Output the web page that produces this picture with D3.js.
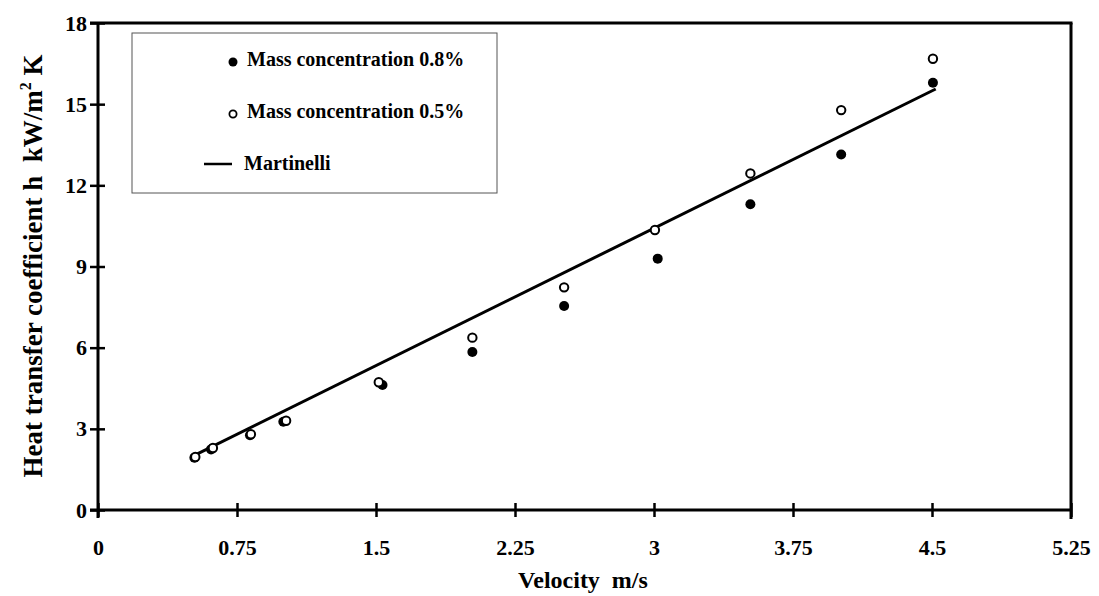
<!DOCTYPE html>
<html>
<head>
<meta charset="utf-8">
<script src="https://cdn.jsdelivr.net/npm/d3@7"></script>
<style>
  html, body { margin: 0; padding: 0; background: #fff; }
  svg { display: block; }
  text { font-family: "Liberation Serif", "Times New Roman", serif; font-weight: bold; fill: #000; white-space: pre; }
</style>
</head>
<body>
<svg id="chart" width="1099" height="596"></svg>
<script>
// ---- data ----
const xTicks = [0, 0.75, 1.5, 2.25, 3, 3.75, 4.5, 5.25];
const xTickLabels = ["0", "0.75", "1.5", "2.25", "3", "3.75", "4.5", "5.25"];
const yTicks = [0, 3, 6, 9, 12, 15, 18];
const yTickLabels = ["0", "3", "6", "9", "12", "15", "18"];

const conc08Velocity = [0.52, 0.61, 0.82, 1.00, 1.535, 2.02, 2.515, 3.02, 3.52, 4.01, 4.505];
const conc08H        = [1.93, 2.24, 2.76, 3.26, 4.62, 5.84, 7.54, 9.29, 11.30, 13.14, 15.79];

const conc05Velocity = [0.525, 0.62, 0.825, 1.015, 1.515, 2.02, 2.515, 3.005, 3.52, 4.01, 4.505];
const conc05H        = [1.96, 2.29, 2.80, 3.30, 4.72, 6.37, 8.23, 10.35, 12.44, 14.78, 16.68];

const martinelliVelocity = [0.52, 4.52];
const martinelliH        = [2.02, 15.56];

const legendLabels = ["Mass concentration 0.8%", "Mass concentration 0.5%", "Martinelli"];

// ---- layout ----
const svg = d3.select("#chart");
const x = d3.scaleLinear().domain([0, 5.25]).range([98, 1071]);
const y = d3.scaleLinear().domain([0, 18]).range([510, 23]);

// frame top + right
svg.append("line").attr("x1", 90).attr("x2", x(5.25) + 1.5).attr("y1", y(18)).attr("y2", y(18))
  .attr("stroke", "#000").attr("stroke-width", 3);
svg.append("line").attr("x1", x(5.25)).attr("x2", x(5.25)).attr("y1", y(18)).attr("y2", y(0) + 9)
  .attr("stroke", "#000").attr("stroke-width", 3);

// x axis
const xAxis = d3.axisBottom(x).tickValues(xTicks)
  .tickFormat((d, i) => xTickLabels[i]).tickSize(7).tickPadding(22);
const gx = svg.append("g").attr("transform", `translate(0,${y(0)})`).call(xAxis);
gx.select(".domain").attr("stroke", "#000").attr("stroke-width", 3)
  .attr("d", `M${x(0) - 8},0H${x(5.25)}`);
gx.selectAll(".tick line").attr("y1", -7).attr("y2", 7).attr("stroke-width", 2.5);
gx.selectAll(".tick text").style("font-size", "22px").attr("font-family", null).attr("font-size", null);

// y axis
const yAxis = d3.axisLeft(y).tickValues(yTicks)
  .tickFormat((d, i) => yTickLabels[i]).tickSize(7).tickPadding(4);
const gy = svg.append("g").attr("transform", `translate(${x(0)},0)`).call(yAxis);
gy.select(".domain").attr("stroke", "#000").attr("stroke-width", 3)
  .attr("d", `M0,${y(18)}V${y(0) + 8}`);
gy.selectAll(".tick line").attr("x1", -8).attr("x2", 7).attr("stroke-width", 2.5);
gy.selectAll(".tick text").style("font-size", "22px").attr("font-family", null).attr("font-size", null);

// axis titles
svg.append("text").attr("x", 583).attr("y", 588).attr("text-anchor", "middle")
  .style("font-size", "24px").text("Velocity  m/s");

const yTitle = svg.append("text").attr("transform", `translate(42,266) rotate(-90)`)
  .attr("text-anchor", "middle").style("font-size", "27px");
yTitle.append("tspan").text("Heat transfer coefficient h  kW/m");
yTitle.append("tspan").attr("dy", -11).style("font-size", "16px").text("2");
yTitle.append("tspan").attr("dy", 11).text(" K");

// Martinelli line
const line = d3.line().x(d => x(d[0])).y(d => y(d[1]));
svg.append("path").datum(d3.zip(martinelliVelocity, martinelliH))
  .attr("d", line).attr("fill", "none").attr("stroke", "#000").attr("stroke-width", 3);

// filled points (0.8%)
svg.append("g").selectAll("circle").data(d3.zip(conc08Velocity, conc08H)).join("circle")
  .attr("cx", d => x(d[0])).attr("cy", d => y(d[1])).attr("r", 5).attr("fill", "#000");

// open points (0.5%)
svg.append("g").selectAll("circle").data(d3.zip(conc05Velocity, conc05H)).join("circle")
  .attr("cx", d => x(d[0])).attr("cy", d => y(d[1])).attr("r", 4.2)
  .attr("fill", "#fff").attr("stroke", "#000").attr("stroke-width", 2);

// legend
const lg = svg.append("g");
lg.append("rect").attr("x", 132).attr("y", 33).attr("width", 365).attr("height", 160)
  .attr("fill", "none").attr("stroke", "#555").attr("stroke-width", 1);
lg.append("circle").attr("cx", 233).attr("cy", 62).attr("r", 4.5).attr("fill", "#000");
lg.append("circle").attr("cx", 233).attr("cy", 114).attr("r", 3.6)
  .attr("fill", "#fff").attr("stroke", "#000").attr("stroke-width", 1.8);
lg.append("line").attr("x1", 204).attr("x2", 232).attr("y1", 164).attr("y2", 164)
  .attr("stroke", "#000").attr("stroke-width", 2.5);
const ly = [59, 111, 163];
const lx = [247, 247, 244];
legendLabels.forEach((t, i) => {
  lg.append("text").attr("x", lx[i]).attr("y", ly[i]).attr("dy", "0.35em")
    .style("font-size", "20px").text(t);
});
</script>
</body>
</html>
